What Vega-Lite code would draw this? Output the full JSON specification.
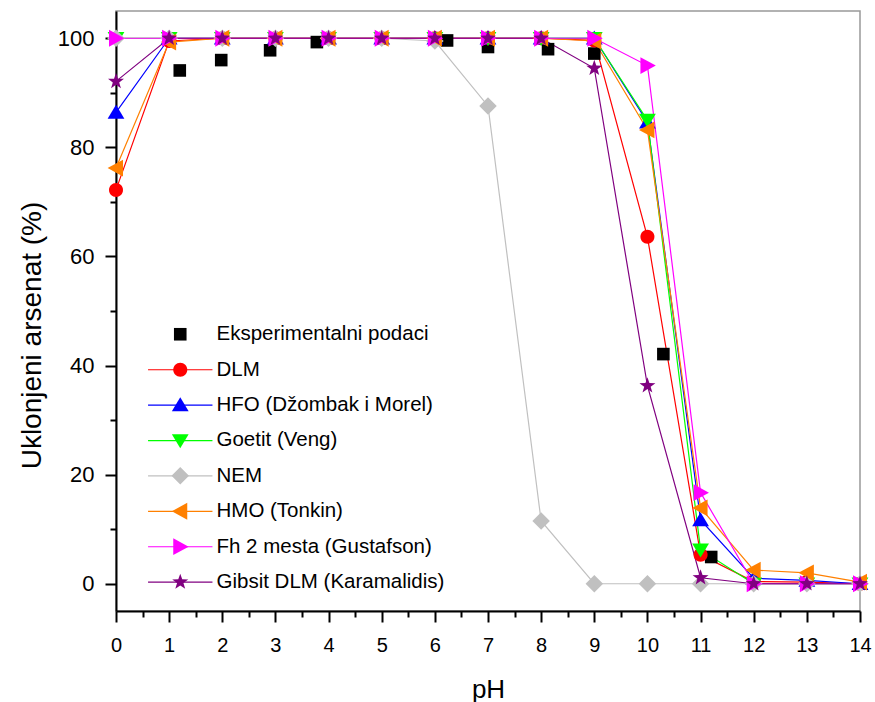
{
  "$schema": "https://vega.github.io/schema/vega-lite/v6.json",
  "width": 744,
  "height": 600,
  "autosize": "none",
  "padding": {"left": 116, "top": 11, "right": 15, "bottom": 91},
  "background": "white",
  "config": {
    "view": {"stroke": "#999999", "strokeWidth": 1.5},
    "font": "Liberation Sans"
  },
  "data": {
    "values": [
      {"s": "Eksperimentalni podaci", "x": 1.2, "y": 94.1},
      {"s": "Eksperimentalni podaci", "x": 1.98, "y": 96.0},
      {"s": "Eksperimentalni podaci", "x": 2.9, "y": 97.8},
      {"s": "Eksperimentalni podaci", "x": 3.78, "y": 99.3},
      {"s": "Eksperimentalni podaci", "x": 5.0, "y": 100},
      {"s": "Eksperimentalni podaci", "x": 6.23, "y": 99.6},
      {"s": "Eksperimentalni podaci", "x": 7.0, "y": 98.4},
      {"s": "Eksperimentalni podaci", "x": 8.13, "y": 98.0},
      {"s": "Eksperimentalni podaci", "x": 9.0, "y": 97.2},
      {"s": "Eksperimentalni podaci", "x": 10.3, "y": 42.1},
      {"s": "Eksperimentalni podaci", "x": 11.2, "y": 4.9},

      {"s": "DLM", "x": 0, "y": 72.2},
      {"s": "DLM", "x": 1, "y": 99.5},
      {"s": "DLM", "x": 2, "y": 100},
      {"s": "DLM", "x": 3, "y": 100},
      {"s": "DLM", "x": 4, "y": 100},
      {"s": "DLM", "x": 5, "y": 100},
      {"s": "DLM", "x": 6, "y": 100},
      {"s": "DLM", "x": 7, "y": 100},
      {"s": "DLM", "x": 8, "y": 100},
      {"s": "DLM", "x": 9, "y": 99.6},
      {"s": "DLM", "x": 10, "y": 63.6},
      {"s": "DLM", "x": 11, "y": 5.3},
      {"s": "DLM", "x": 12, "y": 0.4},
      {"s": "DLM", "x": 13, "y": 0.3},
      {"s": "DLM", "x": 14, "y": 0},

      {"s": "HFO (Džombak i Morel)", "x": 0, "y": 86.4},
      {"s": "HFO (Džombak i Morel)", "x": 1, "y": 100},
      {"s": "HFO (Džombak i Morel)", "x": 2, "y": 100},
      {"s": "HFO (Džombak i Morel)", "x": 3, "y": 100},
      {"s": "HFO (Džombak i Morel)", "x": 4, "y": 100},
      {"s": "HFO (Džombak i Morel)", "x": 5, "y": 100},
      {"s": "HFO (Džombak i Morel)", "x": 6, "y": 100},
      {"s": "HFO (Džombak i Morel)", "x": 7, "y": 100},
      {"s": "HFO (Džombak i Morel)", "x": 8, "y": 100},
      {"s": "HFO (Džombak i Morel)", "x": 9, "y": 100},
      {"s": "HFO (Džombak i Morel)", "x": 10, "y": 84.6},
      {"s": "HFO (Džombak i Morel)", "x": 11, "y": 11.7},
      {"s": "HFO (Džombak i Morel)", "x": 12, "y": 1.0},
      {"s": "HFO (Džombak i Morel)", "x": 13, "y": 0.6},
      {"s": "HFO (Džombak i Morel)", "x": 14, "y": 0},

      {"s": "Goetit (Veng)", "x": 0, "y": 100},
      {"s": "Goetit (Veng)", "x": 1, "y": 100},
      {"s": "Goetit (Veng)", "x": 2, "y": 100},
      {"s": "Goetit (Veng)", "x": 3, "y": 100},
      {"s": "Goetit (Veng)", "x": 4, "y": 100},
      {"s": "Goetit (Veng)", "x": 5, "y": 100},
      {"s": "Goetit (Veng)", "x": 6, "y": 100},
      {"s": "Goetit (Veng)", "x": 7, "y": 100},
      {"s": "Goetit (Veng)", "x": 8, "y": 100},
      {"s": "Goetit (Veng)", "x": 9, "y": 100},
      {"s": "Goetit (Veng)", "x": 10, "y": 85.0},
      {"s": "Goetit (Veng)", "x": 11, "y": 6.2},
      {"s": "Goetit (Veng)", "x": 12, "y": 0},
      {"s": "Goetit (Veng)", "x": 13, "y": 0},
      {"s": "Goetit (Veng)", "x": 14, "y": 0},

      {"s": "NEM", "x": 0, "y": 100},
      {"s": "NEM", "x": 1, "y": 100},
      {"s": "NEM", "x": 2, "y": 100},
      {"s": "NEM", "x": 3, "y": 100},
      {"s": "NEM", "x": 4, "y": 100},
      {"s": "NEM", "x": 5, "y": 100},
      {"s": "NEM", "x": 6, "y": 99.5},
      {"s": "NEM", "x": 7, "y": 87.6},
      {"s": "NEM", "x": 8, "y": 11.5},
      {"s": "NEM", "x": 9, "y": 0},
      {"s": "NEM", "x": 10, "y": 0},
      {"s": "NEM", "x": 11, "y": 0},
      {"s": "NEM", "x": 12, "y": 0},
      {"s": "NEM", "x": 13, "y": 0},
      {"s": "NEM", "x": 14, "y": 0},

      {"s": "HMO (Tonkin)", "x": 0, "y": 76.2},
      {"s": "HMO (Tonkin)", "x": 1, "y": 99.3},
      {"s": "HMO (Tonkin)", "x": 2, "y": 100},
      {"s": "HMO (Tonkin)", "x": 3, "y": 100},
      {"s": "HMO (Tonkin)", "x": 4, "y": 100},
      {"s": "HMO (Tonkin)", "x": 5, "y": 100},
      {"s": "HMO (Tonkin)", "x": 6, "y": 100},
      {"s": "HMO (Tonkin)", "x": 7, "y": 100},
      {"s": "HMO (Tonkin)", "x": 8, "y": 100},
      {"s": "HMO (Tonkin)", "x": 9, "y": 99.5},
      {"s": "HMO (Tonkin)", "x": 10, "y": 83.2},
      {"s": "HMO (Tonkin)", "x": 11, "y": 13.9},
      {"s": "HMO (Tonkin)", "x": 12, "y": 2.5},
      {"s": "HMO (Tonkin)", "x": 13, "y": 2.0},
      {"s": "HMO (Tonkin)", "x": 14, "y": 0.3},

      {"s": "Fh 2 mesta (Gustafson)", "x": 0, "y": 100},
      {"s": "Fh 2 mesta (Gustafson)", "x": 1, "y": 100},
      {"s": "Fh 2 mesta (Gustafson)", "x": 2, "y": 100},
      {"s": "Fh 2 mesta (Gustafson)", "x": 3, "y": 100},
      {"s": "Fh 2 mesta (Gustafson)", "x": 4, "y": 100},
      {"s": "Fh 2 mesta (Gustafson)", "x": 5, "y": 100},
      {"s": "Fh 2 mesta (Gustafson)", "x": 6, "y": 100},
      {"s": "Fh 2 mesta (Gustafson)", "x": 7, "y": 100},
      {"s": "Fh 2 mesta (Gustafson)", "x": 8, "y": 100},
      {"s": "Fh 2 mesta (Gustafson)", "x": 9, "y": 100},
      {"s": "Fh 2 mesta (Gustafson)", "x": 10, "y": 95.0},
      {"s": "Fh 2 mesta (Gustafson)", "x": 11, "y": 16.7},
      {"s": "Fh 2 mesta (Gustafson)", "x": 12, "y": 0},
      {"s": "Fh 2 mesta (Gustafson)", "x": 13, "y": 0},
      {"s": "Fh 2 mesta (Gustafson)", "x": 14, "y": 0},

      {"s": "Gibsit DLM (Karamalidis)", "x": 0, "y": 92.1},
      {"s": "Gibsit DLM (Karamalidis)", "x": 1, "y": 100},
      {"s": "Gibsit DLM (Karamalidis)", "x": 2, "y": 100},
      {"s": "Gibsit DLM (Karamalidis)", "x": 3, "y": 100},
      {"s": "Gibsit DLM (Karamalidis)", "x": 4, "y": 100},
      {"s": "Gibsit DLM (Karamalidis)", "x": 5, "y": 100},
      {"s": "Gibsit DLM (Karamalidis)", "x": 6, "y": 100},
      {"s": "Gibsit DLM (Karamalidis)", "x": 7, "y": 100},
      {"s": "Gibsit DLM (Karamalidis)", "x": 8, "y": 100},
      {"s": "Gibsit DLM (Karamalidis)", "x": 9, "y": 94.5},
      {"s": "Gibsit DLM (Karamalidis)", "x": 10, "y": 36.3},
      {"s": "Gibsit DLM (Karamalidis)", "x": 11, "y": 1.1},
      {"s": "Gibsit DLM (Karamalidis)", "x": 12, "y": 0},
      {"s": "Gibsit DLM (Karamalidis)", "x": 13, "y": 0},
      {"s": "Gibsit DLM (Karamalidis)", "x": 14, "y": 0}
    ]
  },
  "encoding": {
    "x": {
      "field": "x", "type": "quantitative",
      "scale": {"domain": [0, 14], "nice": false, "zero": false},
      "axis": {
        "title": "pH",
        "values": [0,0.5,1,1.5,2,2.5,3,3.5,4,4.5,5,5.5,6,6.5,7,7.5,8,8.5,9,9.5,10,10.5,11,11.5,12,12.5,13,13.5,14],
        "labelExpr": "datum.value % 1 === 0 ? format(datum.value, 'd') : ''",
        "tickSize": {"condition": {"test": "datum.value % 1 !== 0", "value": 6}, "value": 11},
        "tickWidth": 2,
        "tickColor": "black",
        "domainColor": "black",
        "domainWidth": 2,
        "grid": false,
        "labelFont": "Liberation Sans",
        "labelFontSize": 20,
        "labelColor": "black",
        "labelPadding": 13,
        "labelFlush": false,
        "labelOverlap": false,
        "titleFont": "Liberation Sans",
        "titleFontSize": 26,
        "titleFontWeight": "normal",
        "titleColor": "black",
        "titleBaseline": "alphabetic",
        "titleY": 86
      }
    },
    "y": {
      "field": "y", "type": "quantitative",
      "scale": {"domain": [-5, 105], "nice": false, "zero": false},
      "axis": {
        "title": "Uklonjeni arsenat (%)",
        "values": [0,10,20,30,40,50,60,70,80,90,100],
        "labelExpr": "datum.value % 20 === 0 ? datum.label : ''",
        "tickSize": {"condition": {"test": "datum.value % 20 !== 0", "value": 6}, "value": 11},
        "tickWidth": 2,
        "tickColor": "black",
        "domainColor": "black",
        "domainWidth": 2,
        "grid": false,
        "labelFont": "Liberation Sans",
        "labelFontSize": 22,
        "labelColor": "black",
        "labelPadding": 11,
        "labelOverlap": false,
        "titleFont": "Liberation Sans",
        "titleFontSize": 28,
        "titleFontWeight": "normal",
        "titleColor": "black",
        "titleBaseline": "alphabetic",
        "titleX": -76,
        "titleY": 324
      }
    }
  },
  "layer": [
    {
      "transform": [{"filter": "datum.s !== 'Eksperimentalni podaci'"}],
      "mark": {"type": "line", "strokeWidth": 1.2},
      "encoding": {
        "stroke": {
          "field": "s", "type": "nominal",
          "scale": {
            "domain": ["DLM", "HFO (Džombak i Morel)", "Goetit (Veng)", "NEM", "HMO (Tonkin)", "Fh 2 mesta (Gustafson)", "Gibsit DLM (Karamalidis)"],
            "range": ["#FF0000", "#0000FF", "#00FF00", "#C0C0C0", "#FF8000", "#FF00FF", "#800080"]
          },
          "legend": {
            "title": null,
            "orient": "none",
            "legendX": 54,
            "legendY": 348.5,
            "padding": 0,
            "symbolType": "M-4.6,0L4.6,0",
            "symbolSize": 196,
            "symbolStrokeWidth": 1.2,
            "labelFont": "Liberation Sans",
            "labelFontSize": 20.5,
            "labelOpacity": 0,
            "labelOffset": 26,
            "rowPadding": 14.4,
            "labelLimit": 400
          }
        }
      }
    },
    {
      "mark": {"type": "point", "filled": true, "opacity": 1, "size": 196},
      "encoding": {
        "color": {
          "field": "s", "type": "nominal",
          "scale": {
            "domain": ["Eksperimentalni podaci", "DLM", "HFO (Džombak i Morel)", "Goetit (Veng)", "NEM", "HMO (Tonkin)", "Fh 2 mesta (Gustafson)", "Gibsit DLM (Karamalidis)"],
            "range": ["#000000", "#FF0000", "#0000FF", "#00FF00", "#C0C0C0", "#FF8000", "#FF00FF", "#800080"]
          },
          "legend": {
            "title": null,
            "orient": "none",
            "legendX": 54,
            "legendY": 313,
            "padding": 0,
            "symbolSize": 196,
            "labelFont": "Liberation Sans",
            "labelFontSize": 20.5,
            "labelColor": "black",
            "labelOffset": 26,
            "rowPadding": 14.4,
            "labelLimit": 400
          }
        },
        "shape": {
          "field": "s", "type": "nominal",
          "scale": {
            "domain": ["Eksperimentalni podaci", "DLM", "HFO (Džombak i Morel)", "Goetit (Veng)", "NEM", "HMO (Tonkin)", "Fh 2 mesta (Gustafson)", "Gibsit DLM (Karamalidis)"],
            "range": [
              "M-0.9,-0.9L0.9,-0.9L0.9,0.9L-0.9,0.9Z",
              "M1,0A1,1,0,1,1,-1,0A1,1,0,1,1,1,0Z",
              "M0,-1.1L1.2,0.9L-1.2,0.9Z",
              "M0,1.1L1.2,-0.9L-1.2,-0.9Z",
              "M0,-1.25L1.25,0L0,1.25L-1.25,0Z",
              "M-1.2,0L1.0,-1.2L1.0,1.2Z",
              "M1.2,0L-1.0,-1.2L-1.0,1.2Z",
              "M0,-1.2L0.282,-0.388L1.141,-0.371L0.456,0.148L0.705,0.971L0,0.48L-0.705,0.971L-0.456,0.148L-1.141,-0.371L-0.282,-0.388Z"
            ]
          },
          "legend": {
            "title": null,
            "orient": "none",
            "legendX": 54,
            "legendY": 313,
            "padding": 0,
            "symbolSize": 196,
            "labelFont": "Liberation Sans",
            "labelFontSize": 20.5,
            "labelColor": "black",
            "labelOffset": 26,
            "rowPadding": 14.4,
            "labelLimit": 400
          }
        }
      }
    }
  ]
}
